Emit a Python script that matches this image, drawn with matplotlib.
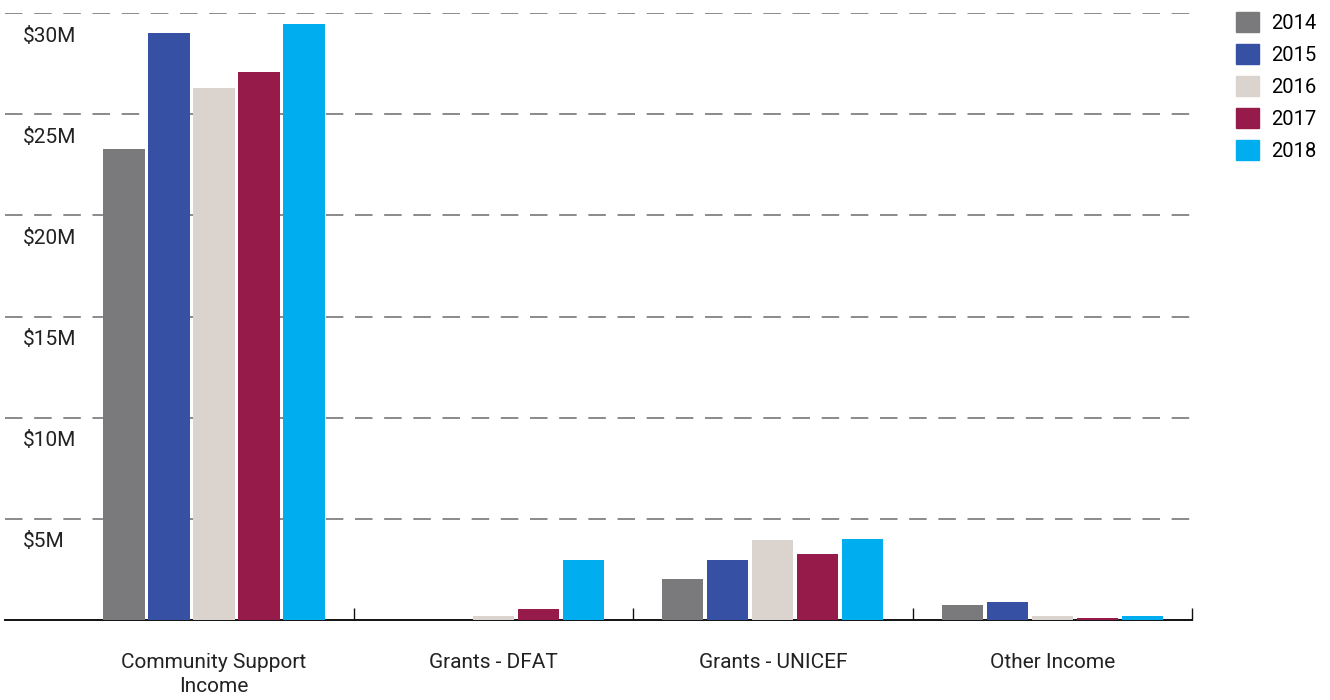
import matplotlib.pyplot as plt
import numpy as np
from matplotlib.patches import Patch

categories = ['Community Support\nIncome', 'Grants - DFAT', 'Grants - UNICEF', 'Other Income']
years = ['2014', '2015', '2016', '2017', '2018']
# values in $M, one list per year (same order as categories)
v2014 = [23.3, 0.0, 2.03, 0.74]
v2015 = [29.0, 0.0, 2.97, 0.89]
v2016 = [26.3, 0.2, 3.96, 0.2]
v2017 = [27.1, 0.55, 3.27, 0.1]
v2018 = [29.45, 2.97, 4.0, 0.2]
colors = ['#7a7a7c', '#3650a3', '#dbd3cd', '#971b4a', '#00aeef']
yticks = [5, 10, 15, 20, 25, 30]
ytick_labels = ['$5M', '$10M', '$15M', '$20M', '$25M', '$30M']

plt.rcParams['font.family'] = ['Roboto', 'DejaVu Sans']

fig = plt.figure(figsize=(13.3, 7), dpi=100)
ax = fig.add_axes([5/1330, 80/700, 1187/1330, 607/700])

series = [v2014, v2015, v2016, v2017, v2018]
x = np.arange(len(categories))
step = 0.161
width = 0.147
for j, vals in enumerate(series):
    ax.bar(x + (j - 2)*step, vals, width, color=colors[j], zorder=3)

ax.set_xlim(-0.748, 3.5)
ax.set_ylim(0, 30)

# dashed grid + labels sitting under each line
for v, lab in zip(yticks, ytick_labels):
    ax.axhline(v, color='#8a8a8a', lw=1.4, dashes=(9, 6), zorder=1)
    ax.annotate(lab, xy=(0, v), xycoords=ax.get_yaxis_transform(),
                xytext=(18, -23), textcoords='offset pixels', va='center', ha='left',
                fontsize=15, color='#222222')

for s in ['top', 'right', 'left']:
    ax.spines[s].set_visible(False)
ax.spines['bottom'].set_linewidth(1.4)
ax.spines['bottom'].set_color('#111111')
ax.set_yticks([])

ax.set_xticks([0.5, 1.5, 2.5, 3.5])
ax.set_xticklabels([])
ax.tick_params(axis='x', direction='in', length=9, width=1.0, color='#111111')
ax.set_xticks(x, minor=True)
ax.set_xticklabels(categories, minor=True, fontsize=15, color='#222222',
                   linespacing=1.3)
ax.tick_params(axis='x', which='minor', length=0, pad=24)

handles = [Patch(color=c) for c in colors]
fig.legend(handles, years, loc='upper left', bbox_to_anchor=(1236/1330, 688/700),
           frameon=False, fontsize=14.5, handlelength=1.15, handleheight=1.15,
           labelspacing=0.56, handletextpad=0.6, borderpad=0, borderaxespad=0)

fig.savefig('out.png', dpi=100)
